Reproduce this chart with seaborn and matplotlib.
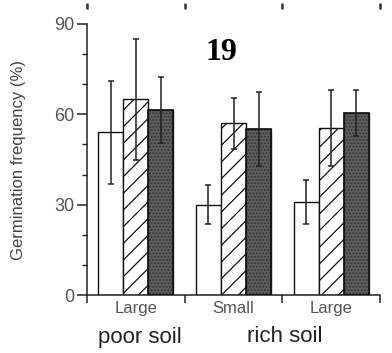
import numpy as np
import pandas as pd
import matplotlib
matplotlib.use('Agg')
import matplotlib.pyplot as plt
import seaborn as sns

# data
groups = ['Large', 'Small', 'Large2']
group_labels = ['Large', 'Small', 'Large']
treatments = ['open', 'hatched', 'shaded']
open_vals = [54, 30, 31]
hatched_vals = [65, 57, 55.5]
shaded_vals = [61.5, 55, 60.5]
open_err = [17, 6.5, 7.3]
hatched_err = [20, 8.5, 12.6]
shaded_err = [11, 12.3, 7.6]
yticks = [0, 30, 60, 90]
soil_labels = ['poor soil', 'rich soil']

sns.set_style('ticks')
plt.rcParams['font.family'] = ['Liberation Sans', 'DejaVu Sans']
plt.rcParams['hatch.linewidth'] = 0.9

df = pd.DataFrame({
    'group': groups * 3,
    'treatment': np.repeat(treatments, 3),
    'value': open_vals + hatched_vals + shaded_vals,
    'err': open_err + hatched_err + shaded_err,
})

fig = plt.figure(figsize = (3.92, 3.53), dpi = 100)
ax = fig.add_axes([87 / 392, 58 / 353, 293 / 392, 271 / 353])

sns.barplot(data = df, x = 'group', y = 'value', hue = 'treatment', order = groups,
            hue_order = treatments, errorbar = None, width = 0.77, ax = ax,
            palette = ['white', 'white', '#5e5e5e'], edgecolor = '#111111',
            linewidth = 1.0, legend = False)

styles = {'open': '', 'hatched': '//', 'shaded': '.....'}
edge = {'open': '#111111', 'hatched': '#111111', 'shaded': '#333333'}
for cont, tr in zip(ax.containers, treatments):
    sub = df[df['treatment'] == tr].set_index('group').loc[groups]
    xs = []
    for p in cont.patches:
        p.set_hatch(styles[tr])
        p.set_edgecolor(edge[tr])
        xs.append(p.get_x() + p.get_width() / 2)
    ax.errorbar(xs, sub['value'], yerr = sub['err'], fmt = 'none', ecolor = '#222222',
                elinewidth = 1.1, capsize = 2.2, capthick = 1.1, zorder = 5)
# redraw the shaded bar outlines in black
for p in ax.containers[2].patches:
    ax.add_patch(plt.Rectangle((p.get_x(), 0), p.get_width(), p.get_height(),
                               fill = False, edgecolor = '#111111', linewidth = 1.2, zorder = 4))

ax.set_xlim(-0.5, 2.5)
ax.set_ylim(0, 90)
ax.set_yticks(yticks)
ax.set_yticks(np.arange(0, 91, 10), minor = True)
ax.set_xticks([-0.5, 0.5, 1.5, 2.5])
ax.set_xticklabels([])
ax.set_xticks([0, 1, 2], minor = True)
ax.set_xticklabels(group_labels, minor = True, fontsize = 12, color = '#555555')
ax.tick_params(axis = 'x', which = 'major', length = 6, width = 1.1, color = '#222222')
ax.tick_params(axis = 'x', which = 'minor', length = 0, pad = 4)
ax.tick_params(axis = 'y', which = 'major', length = 7, width = 1.1, color = '#222222',
               labelsize = 13, labelcolor = '#555555', pad = 2)
ax.tick_params(axis = 'y', which = 'minor', length = 3.5, width = 1.0, color = '#222222')
ax.set_xlabel('')
ax.set_ylabel('Germination frequency (%)', fontsize = 12, color = '#444444', labelpad = 20)
for s in ['left', 'bottom']:
    ax.spines[s].set_linewidth(1.1)
    ax.spines[s].set_color('#222222')
sns.despine(ax = ax)

fig.text(221 / 392, 1 - 52 / 353, '19', fontsize = 23, fontweight = 'bold',
         family = ['Liberation Serif'], ha = 'center', va = 'center', color = 'black')
fig.text(140 / 392, 1 - 337 / 353, soil_labels[0], fontsize = 16, color = '#222222',
         ha = 'center', va = 'center')
fig.text(285 / 392, 1 - 337 / 353, soil_labels[1], fontsize = 16, color = '#222222',
         ha = 'center', va = 'center')

# tick marks of the panel above, cut off at the top
ax_top = fig.add_axes([87 / 392, 1 - 3 / 353, 293 / 392, 0.001])
ax_top.set_xlim(-0.5, 2.5)
ax_top.set_xticks([-0.5, 0.5, 1.5, 2.5])
ax_top.set_xticklabels([])
ax_top.set_yticks([])
ax_top.tick_params(axis = 'x', length = 4, width = 1.8, color = '#333333')
for s in ax_top.spines.values():
    s.set_visible(False)

fig.savefig('out.png', dpi = 100)
